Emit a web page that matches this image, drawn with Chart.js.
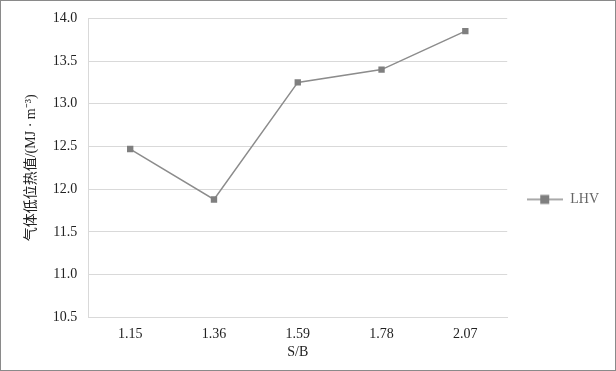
<!DOCTYPE html>
<html>
<head>
<meta charset="utf-8">
<script src="https://cdn.jsdelivr.net/npm/chart.js@4"></script>
<style>
    html, body { margin: 0; padding: 0; background: #fff; }
    #wrap { width: 614px; height: 369px; border: 1px solid #8a8a8a; }
</style>
</head>
<body>
<div id="wrap"><canvas id="lhvChart" width="614" height="369"></canvas></div>
<script>
const categories = ["1.15", "1.36", "1.59", "1.78", "2.07"];
const lhvValues = [12.47, 11.88, 13.25, 13.40, 13.85];
const seriesName = "LHV";

document.addEventListener("DOMContentLoaded", () => {

    const serif = "'Liberation Serif', 'Times New Roman', serif";
    const lineColor = "#8c8c8c";
    const markerColor = "#7f7f7f";

    // legend symbol: short line with a square in the middle
    const legendIcon = document.createElement("canvas");
    legendIcon.width = 36;
    legendIcon.height = 12;
    const ic = legendIcon.getContext("2d");
    ic.strokeStyle = lineColor;
    ic.lineWidth = 1.5;
    ic.beginPath();
    ic.moveTo(0, 6);
    ic.lineTo(36, 6);
    ic.stroke();
    ic.fillStyle = markerColor;
    ic.fillRect(13, 1.5, 9, 9);

    const ctx = document.getElementById("lhvChart").getContext("2d");

    new Chart(ctx, {
        type: "line",
        data: {
            labels: categories,
            datasets: [{
                label: seriesName,
                data: lhvValues,
                borderColor: lineColor,
                borderWidth: 1.5,
                backgroundColor: markerColor,
                pointStyle: "rect",
                pointRadius: 4.5,
                pointBorderWidth: 0,
                pointBackgroundColor: markerColor,
                tension: 0
            }]
        },
        options: {
            responsive: false,
            animation: false,
            layout: {
                padding: { left: 22, right: 6, top: 4, bottom: 9 }
            },
            plugins: {
                legend: {
                    position: "right",
                    // empty title just pushes the entry down a bit
                    title: {
                        display: true,
                        text: " ",
                        padding: { top: 8, bottom: 8 },
                        font: { family: serif, size: 14 }
                    },
                    labels: {
                        usePointStyle: true,
                        pointStyleWidth: 36,
                        boxWidth: 36,
                        padding: 20,
                        color: "#222",
                        font: { family: serif, size: 14 },
                        generateLabels: (chart) => [{
                            text: seriesName,
                            pointStyle: legendIcon,
                            fillStyle: markerColor,
                            strokeStyle: lineColor,
                            lineWidth: 0,
                            datasetIndex: 0,
                            hidden: false
                        }]
                    }
                },
                tooltip: { enabled: false }
            },
            scales: {
                x: {
                    offset: true,
                    grid: { display: false, drawTicks: false },
                    border: { display: true, color: "#d9d9d9" },
                    ticks: {
                        color: "#222",
                        padding: 9,
                        font: { family: serif, size: 14 }
                    },
                    title: {
                        display: true,
                        text: "S/B",
                        color: "#222",
                        padding: { top: -8, bottom: 0 },
                        font: { family: serif, size: 14 }
                    }
                },
                y: {
                    min: 10.5,
                    max: 14.0,
                    grid: { color: "#d9d9d9", drawTicks: false },
                    border: { display: true, color: "#d9d9d9" },
                    ticks: {
                        stepSize: 0.5,
                        color: "#222",
                        padding: 11,
                        font: { family: serif, size: 14, lineHeight: 0.9 },
                        callback: (v) => v.toFixed(1)
                    },
                    title: {
                        display: true,
                        text: "气体低位热值/(MJ · m⁻³)",
                        color: "#222",
                        padding: { top: 0, bottom: 2 },
                        font: { family: "'Liberation Serif', 'Noto Sans CJK SC', serif", size: 14 }
                    }
                }
            }
        }
    });

});
</script>
</body>
</html>
